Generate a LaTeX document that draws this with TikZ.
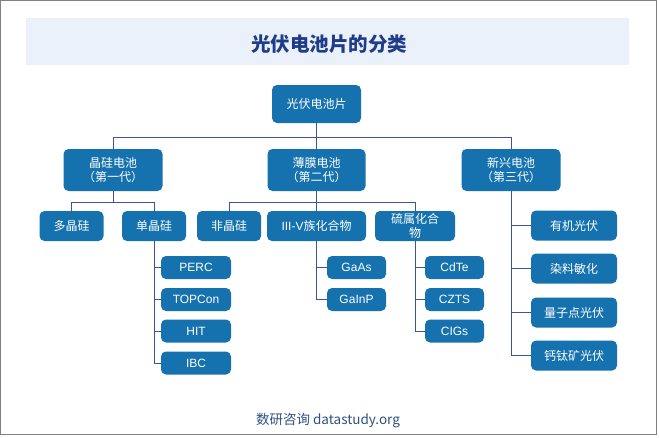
\documentclass[tikz,border=0pt]{standalone}
\usepackage{fontspec}
\setmainfont{Liberation Sans}
\newfontfamily\cjk{Noto Sans CJK SC}
\newfontfamily\latf{Liberation Sans}
\definecolor{nodeblue}{HTML}{1572AE}
\definecolor{linecol}{HTML}{3B5596}
\definecolor{titlebg}{HTML}{EAF1FB}
\definecolor{titletext}{HTML}{1F3C88}
\definecolor{foottext}{HTML}{2F5080}
\begin{document}
\begin{tikzpicture}[x=1pt,y=-1pt,
  box/.style={fill=nodeblue, rounded corners=5pt, text=white, inner sep=0pt, align=center,
    font=\cjk\fontsize{12}{13.5}\selectfont},
  latbox/.style={box, font=\latf\fontsize{12}{14}\selectfont},
  conn/.style={draw=linecol, line width=1pt}]
\useasboundingbox (0,0) rectangle (659,437);
\draw[gray, line width=1pt] (0.5,0.5) rectangle (656,434.5);
\fill[titlebg] (26,17.5) rectangle (629,65);
\node[font=\cjk\bfseries\fontsize{19.5}{22}\selectfont, text=titletext] (title) at (329,44) {光伏电池片的分类};
\node[font=\cjk\fontsize{13.5}{16}\selectfont, text=foottext] (foot) at (328,421) {数研咨询 datastudy.org};

% level 0
\node[box, minimum width=89, minimum height=38] (root) at (316.5,104) {光伏电池片};
% level 1
\node[box, minimum width=99, minimum height=42] (c1) at (113,170) {晶硅电池\\（第一代）};
\node[box, minimum width=98, minimum height=42] (c2) at (316.5,170) {薄膜电池\\（第二代）};
\node[box, minimum width=99, minimum height=42] (c3) at (511,170) {新兴电池\\（第三代）};
% level 2
\node[box, minimum width=64, minimum height=30] (d1) at (71.5,226) {多晶硅};
\node[box, minimum width=64, minimum height=30] (d2) at (154,226) {单晶硅};
\node[box, minimum width=64, minimum height=30] (d3) at (229,226) {非晶硅};
\node[box, minimum width=99, minimum height=30] (d4) at (316.5,226) {{\latf III-V}族化合物};
\node[box, minimum width=80, minimum height=30] (d5) at (415,226) {硫属化合\\物};
% emerging
\node[box, minimum width=86, minimum height=30] (e1) at (574,225.5) {有机光伏};
\node[box, minimum width=86, minimum height=30] (e2) at (574,268.5) {染料敏化};
\node[box, minimum width=86, minimum height=30] (e3) at (574,312.5) {量子点光伏};
\node[box, minimum width=86, minimum height=30] (e4) at (574,355.5) {钙钛矿光伏};
% mono-Si
\node[latbox, minimum width=70, minimum height=23] (perc) at (196,267.5) {PERC};
\node[latbox, minimum width=70, minimum height=23] (topcon) at (196,299.5) {TOPCon};
\node[latbox, minimum width=70, minimum height=23] (hit) at (196,331) {HIT};
\node[latbox, minimum width=70, minimum height=23] (ibc) at (196,363) {IBC};
% III-V
\node[latbox, minimum width=59, minimum height=23] (gaas) at (356.5,267.5) {GaAs};
\node[latbox, minimum width=59, minimum height=23] (gainp) at (356.5,299.5) {GaInP};
% chalcogenide
\node[latbox, minimum width=59, minimum height=23] (cdte) at (454.5,267.5) {CdTe};
\node[latbox, minimum width=59, minimum height=23] (czts) at (454.5,299.5) {CZTS};
\node[latbox, minimum width=59, minimum height=23] (cigs) at (454.5,331) {CIGs};

% connectors
\draw[conn] (root.south) -- ++(0,14) -| (c1.north);
\draw[conn] (root.south) -- ++(0,14) -| (c3.north);
\draw[conn] (root.south) -- (c2.north);
\draw[conn] (c1.south) -- ++(0,11) -| (d1.north);
\draw[conn] (c1.south) -- ++(0,11) -| (d2.north);
\draw[conn] (c2.south) -- ++(0,11) -| (d3.north);
\draw[conn] (c2.south) -- (d4.north);
\draw[conn] (c2.south) -- ++(0,11) -| (d5.north);
\foreach \t in {perc,topcon,hit,ibc} \draw[conn] (d2.south) |- (\t.west);
\foreach \t in {gaas,gainp} \draw[conn] (d4.south) |- (\t.west);
\foreach \t in {cdte,czts,cigs} \draw[conn] (d5.south) |- (\t.west);
\foreach \t in {e1,e2,e3,e4} \draw[conn] (c3.south) |- (\t.west);
\end{tikzpicture}
\end{document}
